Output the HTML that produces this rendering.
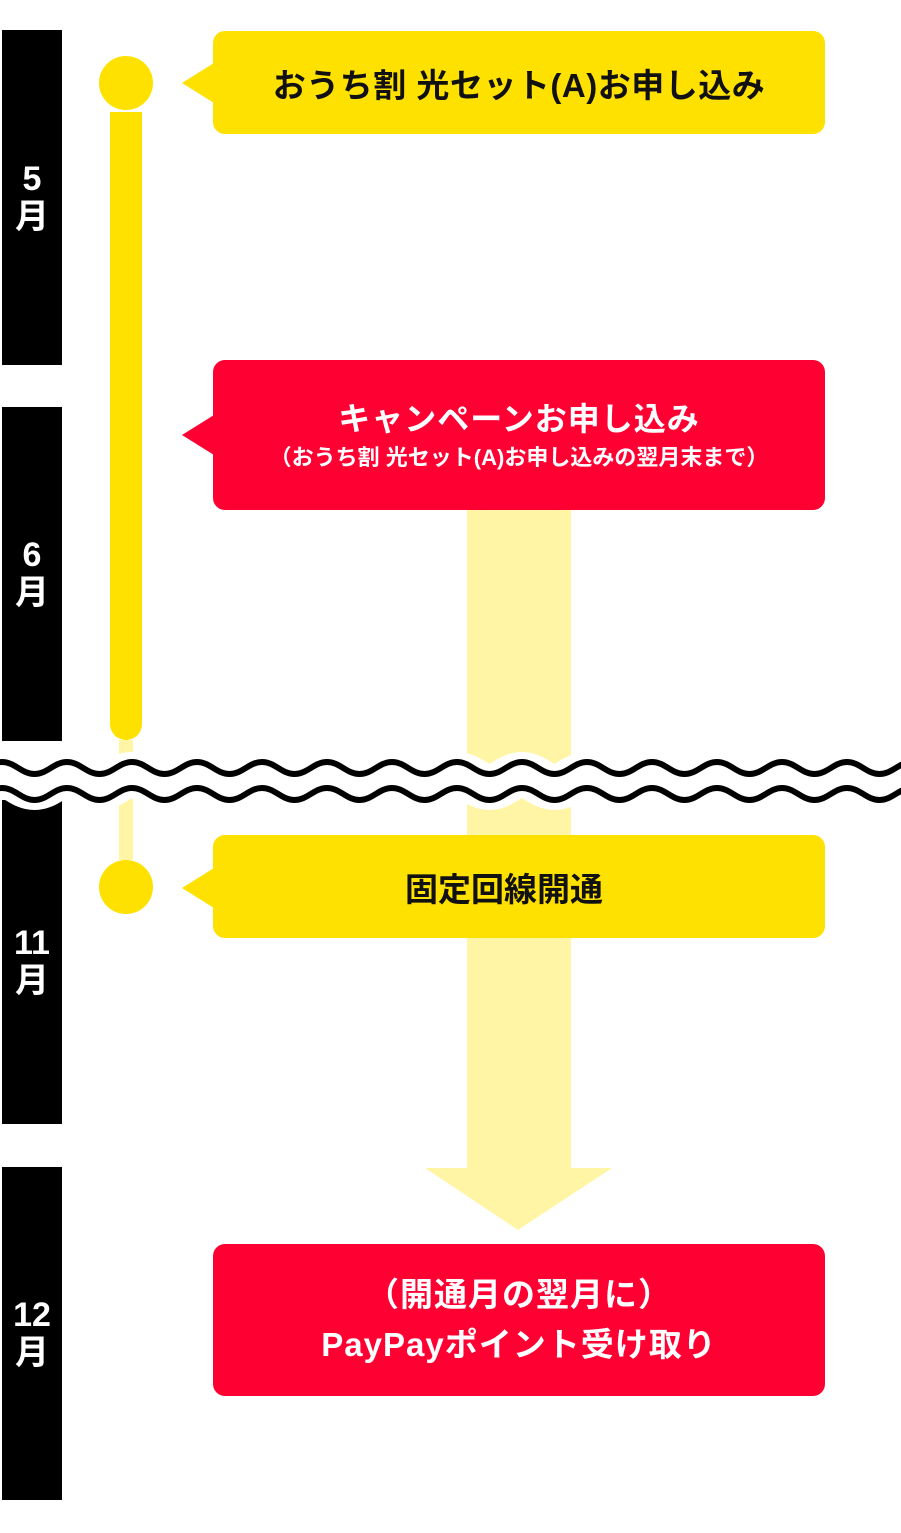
<!DOCTYPE html>
<html><head><meta charset="utf-8"><style>
body{margin:0;background:#fff;width:901px;height:1533px;position:relative;overflow:hidden;font-family:"Liberation Sans","Noto Sans CJK JP",sans-serif}
.bar{position:absolute;left:2px;width:60px;background:#000;color:#fff;font-weight:bold;font-size:34px;line-height:38px;text-align:center;display:flex;flex-direction:column;justify-content:center;align-items:center}
.box{position:absolute;left:213px;width:612px;border-radius:12px;display:flex;flex-direction:column;justify-content:center;align-items:center;font-weight:bold;text-align:center}
.y{background:#FFE100;color:#111}
.r{background:#FF0033;color:#fff}
.tri{position:absolute;left:182px;width:0;height:0;border-top:20px solid transparent;border-bottom:20px solid transparent;border-right:32px solid}
.dot{position:absolute;left:99px;width:54px;height:54px;border-radius:50%;background:#FFE100}
</style></head><body>
<div class="bar" style="top:30px;height:335px">5<br>月</div>
<div class="bar" style="top:407px;height:334px">6<br>月</div>
<div class="bar" style="top:800px;height:324px">11<br>月</div>
<div class="bar" style="top:1167px;height:333px">12<br>月</div>

<div style="position:absolute;left:467px;top:510px;width:104px;height:660px;background:#FFF5A5"></div>
<svg style="position:absolute;left:0;top:0" width="901" height="1533"><polygon points="425,1168 612,1168 518,1230" fill="#FFF5A5"/></svg>

<div style="position:absolute;left:110px;top:112px;width:32px;height:628px;background:#FFE100;border-radius:0 0 16px 16px;box-shadow:0 -3px 0 #fff"></div>
<div style="position:absolute;left:119px;top:740px;width:14px;height:120px;background:#FFF5A5"></div>
<div class="dot" style="top:56px"></div>
<div class="dot" style="top:860px"></div>

<svg style="position:absolute;left:0;top:0" width="901" height="1533">
<defs><path id="w" d="M-63,0 c13,0 19.5,12 32.5,12 s19.5,-12 32.5,-12 s19.5,12 32.5,12 s19.5,-12 32.5,-12 s19.5,12 32.5,12 s19.5,-12 32.5,-12 s19.5,12 32.5,12 s19.5,-12 32.5,-12 s19.5,12 32.5,12 s19.5,-12 32.5,-12 s19.5,12 32.5,12 s19.5,-12 32.5,-12 s19.5,12 32.5,12 s19.5,-12 32.5,-12 s19.5,12 32.5,12 s19.5,-12 32.5,-12 s19.5,12 32.5,12 s19.5,-12 32.5,-12 s19.5,12 32.5,12 s19.5,-12 32.5,-12 s19.5,12 32.5,12 s19.5,-12 32.5,-12 s19.5,12 32.5,12 s19.5,-12 32.5,-12 s19.5,12 32.5,12 s19.5,-12 32.5,-12 s19.5,12 32.5,12 s19.5,-12 32.5,-12 s19.5,12 32.5,12 s19.5,-12 32.5,-12 s19.5,12 32.5,12 s19.5,-12 32.5,-12 s19.5,12 32.5,12" fill="none"/></defs>
<use href="#w" y="775" stroke="#fff" stroke-width="46" fill="none"/>
<use href="#w" y="762" stroke="#000" stroke-width="6" fill="none"/>
<use href="#w" y="788" stroke="#000" stroke-width="6" fill="none"/>
</svg>

<div class="tri" style="top:63px;border-right-color:#FFE100"></div>
<div class="box y" style="top:31px;height:103px;font-size:33px;letter-spacing:0.5px">おうち割 光セット(A)お申し込み</div>

<div class="tri" style="top:415px;border-right-color:#FF0033"></div>
<div class="box r" style="top:360px;height:150px"><div style="font-size:32px;line-height:46px;letter-spacing:1px">キャンペーンお申し込み</div><div style="font-size:22px;line-height:32px">（おうち割 光セット(A)お申し込みの翌月末まで）</div></div>

<div class="tri" style="top:868px;border-right-color:#FFE100"></div>
<div class="box y" style="top:835px;height:103px;font-size:33px;padding-right:30px;box-sizing:border-box">固定回線開通</div>

<div class="box r" style="top:1244px;height:152px;font-size:33px;line-height:50px;letter-spacing:1px">（開通月の翌月に）<br>PayPayポイント受け取り</div>
</body></html>
